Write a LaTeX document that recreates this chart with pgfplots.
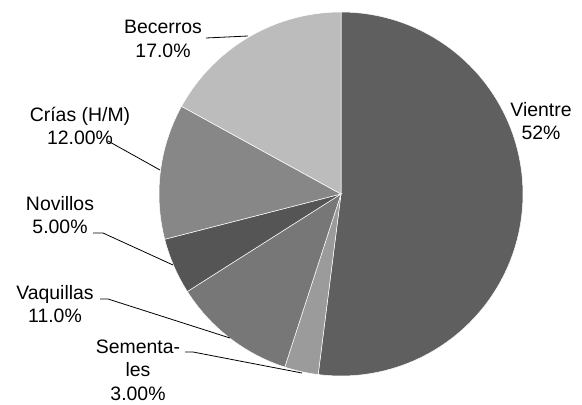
\documentclass[border=0pt]{standalone}
\usepackage{pgfplots}
\usepackage{pgfplotstable}
\pgfplotsset{compat=1.18}
\usepackage{fontspec}
\setmainfont{Liberation Sans}
\definecolor{slice0}{HTML}{5F5F5F}
\definecolor{slice1}{HTML}{9B9B9B}
\definecolor{slice2}{HTML}{777777}
\definecolor{slice3}{HTML}{555555}
\definecolor{slice4}{HTML}{878787}
\definecolor{slice5}{HTML}{BCBCBC}
\pgfplotstableread{
label pct
Vientre 52
Sementales 3
Vaquillas 11
Novillos 5
Crias 12
Becerros 17
}\pietable
\pgfplotstablecreatecol[create col/expr accum={\pgfmathaccuma + \thisrow{pct}}{0}]{cum}\pietable
\begin{document}
\begin{tikzpicture}
\fontsize{19.5}{23.5}\selectfont
\begin{axis}[x=1bp,y=1bp,xmin=0,xmax=582,ymin=0,ymax=405,hide axis,clip=false]
\pgfplotsinvokeforeach{0,...,5}{
  \pgfplotstablegetelem{#1}{pct}\of\pietable \let\p=\pgfplotsretval
  \pgfplotstablegetelem{#1}{cum}\of\pietable \let\cc=\pgfplotsretval
  \pgfmathsetmacro{\ta}{450-3.6*\cc}
  \pgfmathsetmacro{\tb}{450-3.6*(\cc-\p)}
  \edef\temp{\noexpand\addplot[fill=slice#1, draw=white, line width=0.5bp, domain=\ta:\tb, samples=80, variable=\noexpand\t] ({341+182*cos(\noexpand\t)}, {211+182*sin(\noexpand\t)}) -- (axis cs:341,211) -- cycle;}
  \temp
}
\draw[black, line width=0.8bp] (axis cs:206,367) -- (axis cs:248,369);
\draw[black, line width=0.8bp] (axis cs:108,264) -- (axis cs:160,235);
\draw[black, line width=0.8bp] (axis cs:93,172) -- (axis cs:103,172) -- (axis cs:173,140);
\draw[black, line width=0.8bp] (axis cs:100,106) -- (axis cs:108,106) -- (axis cs:230,67);
\draw[black, line width=0.8bp] (axis cs:185,53) -- (axis cs:193,53) -- (axis cs:302,32);
\node[align=center] at (axis cs:163,366) {Becerros\\17.0\%};
\node[align=center] at (axis cs:80,279) {Crías (H/M)\\12.00\%};
\node[align=center] at (axis cs:60,190) {Novillos\\5.00\%};
\node[align=center] at (axis cs:55,101) {Vaquillas\\11.0\%};
\node[align=center] at (axis cs:138,35) {Sementa-\\les\\3.00\%};
\node[align=center] at (axis cs:541,284) {Vientre\\52\%};
\end{axis}
\pgfresetboundingbox
\useasboundingbox (0,0) rectangle (582bp,405bp);
\end{tikzpicture}
\end{document}
